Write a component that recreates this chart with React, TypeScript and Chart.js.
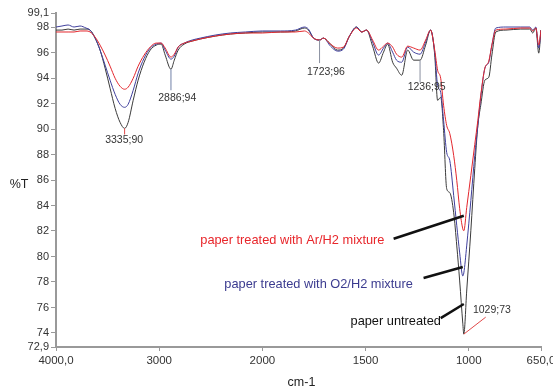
import React, { useEffect, useRef } from "react";
import { Chart, registerables } from "chart.js";

Chart.register(...registerables);

// ---- data (wavenumber in cm-1, transmittance in %T) ----
const wavenumbers = [
  4000, 3942, 3883, 3825, 3767, 3709, 3670, 3621, 3573, 3524, 3476, 3427, 3379, 3335, 3301, 3252, 3204, 3146,
  3087, 3029, 2981, 2942, 2886, 2854, 2816, 2757, 2680, 2602, 2456, 2311, 2165, 2000, 1913, 1840, 1796, 1777,
  1752, 1723, 1704, 1670, 1636, 1607, 1578, 1544, 1519, 1495, 1466, 1437, 1413, 1393, 1369, 1350, 1325, 1296,
  1267, 1236, 1209, 1185, 1165, 1151, 1136, 1122, 1107, 1092, 1073, 1058, 1044, 1029, 1024, 1010, 990, 971,
  956, 942, 922, 903, 888, 869, 820, 748, 704, 690, 675, 661, 650,
];

const arH2 = [
  97.61, 97.61, 97.61, 97.61, 97.69, 97.69, 97.61, 97.21, 96.58, 95.8, 94.93, 93.98, 93.35, 93.12, 93.28, 93.98,
  94.93, 95.8, 96.43, 96.74, 96.74, 96.35, 95.64, 95.87, 96.43, 96.74, 96.9, 97.06, 97.29, 97.45, 97.53, 97.53,
  97.61, 97.61, 97.69, 97.53, 97.13, 96.98, 97.13, 96.66, 96.35, 96.43, 97.29, 97.92, 97.61, 97.76, 96.98, 96.19,
  96.5, 96.74, 96.43, 95.87, 95.64, 96.5, 96.35, 96.19, 96.98, 97.76,
  96.19, 94.61, 93.98, 91.86, 90.28, 89.65, 87.92, 85.95, 83.75, 82.17, 82.02, 83.83, 86.35, 88.79, 90.68, 92.65,
  94.77, 95.32, 96.58, 97.76,
  97.84, 97.92, 97.92, 97.69, 97.92, 96.58, 97.76,
];

const o2H2 = [
  98.0, 98.08, 98.16, 98.0, 98.08, 97.92, 97.76, 97.13, 96.19, 95.01, 93.83, 92.72, 91.94, 91.7, 91.94, 93.04,
  94.38, 95.56, 96.35, 96.66, 96.74, 96.19, 95.48, 95.72, 96.43, 96.74, 96.98, 97.13, 97.37, 97.53, 97.61, 97.69,
  97.69, 97.76, 98.0, 97.84, 97.13, 96.98, 97.13, 96.5, 96.11, 96.27, 97.29, 98.0, 97.61, 97.76, 96.82, 95.8,
  96.35, 96.74, 96.03, 95.4, 95.24, 96.43, 96.03, 95.87, 96.82, 97.76,
  96.03, 93.43, 92.88, 90.68, 88.16, 87.53, 84.77, 82.41, 80.28, 78.47, 78.71, 80.83, 84.38, 87.92, 90.28, 92.49,
  94.77, 95.24, 96.58, 97.92,
  98.0, 98.0, 98.0, 97.76, 98.0, 96.35, 97.76,
];

const untreated = [
  97.76, 97.76, 97.84, 97.76, 97.84, 97.84, 97.76, 97.13, 96.19, 94.77, 93.2, 91.62, 90.52, 90.05, 90.52, 92.25,
  93.83, 95.24, 96.19, 96.58, 96.66, 95.8, 94.69, 95.4, 96.19, 96.66, 96.9, 97.06, 97.29, 97.45, 97.53, 97.61,
  97.61, 97.69, 97.92, 97.76, 97.13, 96.98, 97.13, 96.66, 96.19, 96.35, 97.29, 98.0, 97.61, 97.76, 96.5, 95.17,
  96.03, 96.66, 95.24, 94.77, 94.22, 96.19, 95.4, 95.4, 96.58, 97.76,
  95.8, 92.25, 92.49, 89.89, 85.32, 85.01, 83.43, 80.83, 78.08, 74.77, 73.91, 77.29, 82.02, 86.9, 90.28, 91.86,
  93.83, 94.06, 95.8, 97.61,
  97.76, 97.84, 97.84, 97.53, 97.92, 95.95, 97.76,
];

const seriesNames = ["paper treated with Ar/H2 mixture", "paper treated with O2/H2 mixture", "paper untreated"];
const seriesColors = ["#e3262c", "#3f3f9c", "#3a3a3a"];
const seriesTextColors = ["#e8262b", "#3b3b8f", "#111111"];

const xTickWavenumbers = [4000, 3000, 2000, 1500, 1000, 650];
const xTickLabels = ["4000,0", "3000", "2000", "1500", "1000", "650,0"];
const yTickValues = [99.1, 98, 96, 94, 92, 90, 88, 86, 84, 82, 80, 78, 76, 74, 72.9];
const yTickLabels = ["99,1", "98", "96", "94", "92", "90", "88", "86", "84", "82", "80", "78", "76", "74", "72,9"];

// peak annotations (data units: [wavenumber, %T])
const peakLabels = ["3335;90", "2886;94", "1723;96", "1236;95", "1029;73"];
const peakPoints = [[3335, 90.05], [2886, 94.69], [1723, 96.98], [1236, 95.4], [1024, 73.91]];
const peakLineEnds = [[3335, 89.57], [2886, 93.04], [1723, 95.17], [1236, 93.67], [918, 75.24]];
const peakLabelPos = [[3340, 89.1], [2825, 92.41], [1692, 94.46], [1204, 93.28], [888, 75.8]];
const peakLineColors = ["#e04848", "#7080a8", "#8a90a0", "#8a90a0", "#e04848"];

// series labels with pointer lines (data units)
const seriesLabelPos = [[2602, 81.23], [2369, 77.84], [1573, 74.93]];
const pointerStart = [[1364, 81.39], [1219, 78.31], [1136, 75.17]];
const pointerEnd = [[1024, 83.2], [1029, 79.18], [1024, 76.27]];

// x axis with a scale change at 2000 cm-1 (4000-2000 compressed 2x)
const toAxis = (w: number) => (w >= 2000 ? (4000 - w) / 2 : 1000 + (2000 - w));

const FONT = "'Liberation Sans', Arial, sans-serif";

const annotationPlugin = {
  id: "irAnnotations",
  afterDatasetsDraw(chart: any) {
    const ctx = chart.ctx as CanvasRenderingContext2D;
    const xs = chart.scales.x;
    const ys = chart.scales.y;
    const px = (w: number) => xs.getPixelForValue(toAxis(w));
    const py = (t: number) => ys.getPixelForValue(t);
    ctx.save();
    // peak markers
    ctx.font = `10.5px ${FONT}`;
    ctx.textAlign = "center";
    ctx.textBaseline = "middle";
    peakLabels.forEach((lab, i) => {
      ctx.strokeStyle = peakLineColors[i];
      ctx.lineWidth = 1;
      ctx.beginPath();
      ctx.moveTo(px(peakPoints[i][0]), py(peakPoints[i][1]));
      ctx.lineTo(px(peakLineEnds[i][0]), py(peakLineEnds[i][1]));
      ctx.stroke();
      ctx.fillStyle = "#333";
      ctx.fillText(lab, px(peakLabelPos[i][0]), py(peakLabelPos[i][1]));
    });
    // series labels
    ctx.font = `12.8px ${FONT}`;
    ctx.textAlign = "left";
    seriesNames.forEach((name, i) => {
      ctx.fillStyle = seriesTextColors[i];
      ctx.fillText(name, px(seriesLabelPos[i][0]), py(seriesLabelPos[i][1]));
      ctx.strokeStyle = "#111";
      ctx.lineWidth = 2.5;
      ctx.beginPath();
      ctx.moveTo(px(pointerStart[i][0]), py(pointerStart[i][1]));
      ctx.lineTo(px(pointerEnd[i][0]), py(pointerEnd[i][1]));
      ctx.stroke();
    });
    // axis titles
    ctx.fillStyle = "#222";
    ctx.font = `12.5px ${FONT}`;
    ctx.textAlign = "center";
    ctx.fillText("%T", 19, (chart.chartArea.top + chart.chartArea.bottom) / 2 + 5);
    ctx.fillText("cm-1", (chart.chartArea.left + chart.chartArea.right) / 2 + 3, 383);
    ctx.restore();
  },
};

export default function App() {
  const ref = useRef<HTMLCanvasElement>(null);
  useEffect(() => {
    const mk = (vals: number[], i: number) => ({
      label: seriesNames[i],
      data: wavenumbers.map((w, k) => ({ x: toAxis(w), y: vals[k] })),
      borderColor: seriesColors[i],
      backgroundColor: seriesColors[i],
      borderWidth: 1,
      pointRadius: 0,
      cubicInterpolationMode: "monotone" as const,
      fill: false,
    });
    const chart = new Chart(ref.current!, {
      type: "line",
      data: { datasets: [mk(arH2, 0), mk(o2H2, 1), mk(untreated, 2)] },
      options: {
        responsive: false,
        animation: false,
        layout: { padding: { left: 0, right: 12, top: 13, bottom: 0 } },
        plugins: { legend: { display: false }, tooltip: { enabled: false } },
        scales: {
          x: {
            type: "linear",
            min: 0,
            max: toAxis(650),
            afterBuildTicks: (s: any) => {
              s.ticks = xTickWavenumbers.map((w) => ({ value: toAxis(w) }));
            },
            afterFit: (s: any) => {
              s.height = 43;
              s.paddingLeft = 0;
              s.paddingRight = 0;
            },
            ticks: {
              autoSkip: false,
              maxRotation: 0,
              color: "#333",
              padding: 3,
              font: { family: FONT, size: 11.5 },
              callback: (_v: any, i: number) => xTickLabels[i],
            },
            grid: { drawOnChartArea: false, drawTicks: true, tickLength: 4, color: "#999" },
            border: { display: true, color: "#999", width: 2 },
          },
          y: {
            min: 72.9,
            max: 99.1,
            afterBuildTicks: (s: any) => {
              s.ticks = yTickValues.map((v) => ({ value: v }));
            },
            afterFit: (s: any) => {
              s.width = 56;
              s.paddingTop = 0;
              s.paddingBottom = 0;
            },
            ticks: {
              autoSkip: false,
              color: "#333",
              padding: 2,
              font: { family: FONT, size: 11 },
              callback: (_v: any, i: number) => yTickLabels[i],
            },
            grid: { drawOnChartArea: false, drawTicks: true, tickLength: 5, color: "#999" },
            border: { display: true, color: "#999", width: 2 },
          },
        },
      },
      plugins: [annotationPlugin],
    });
    return () => chart.destroy();
  }, []);
  return (
    <div style={{ position: "absolute", left: 0, top: 0, width: 553, height: 390, background: "#fff" }}>
      <canvas ref={ref} width={553} height={390} style={{ display: "block" }} />
    </div>
  );
}
